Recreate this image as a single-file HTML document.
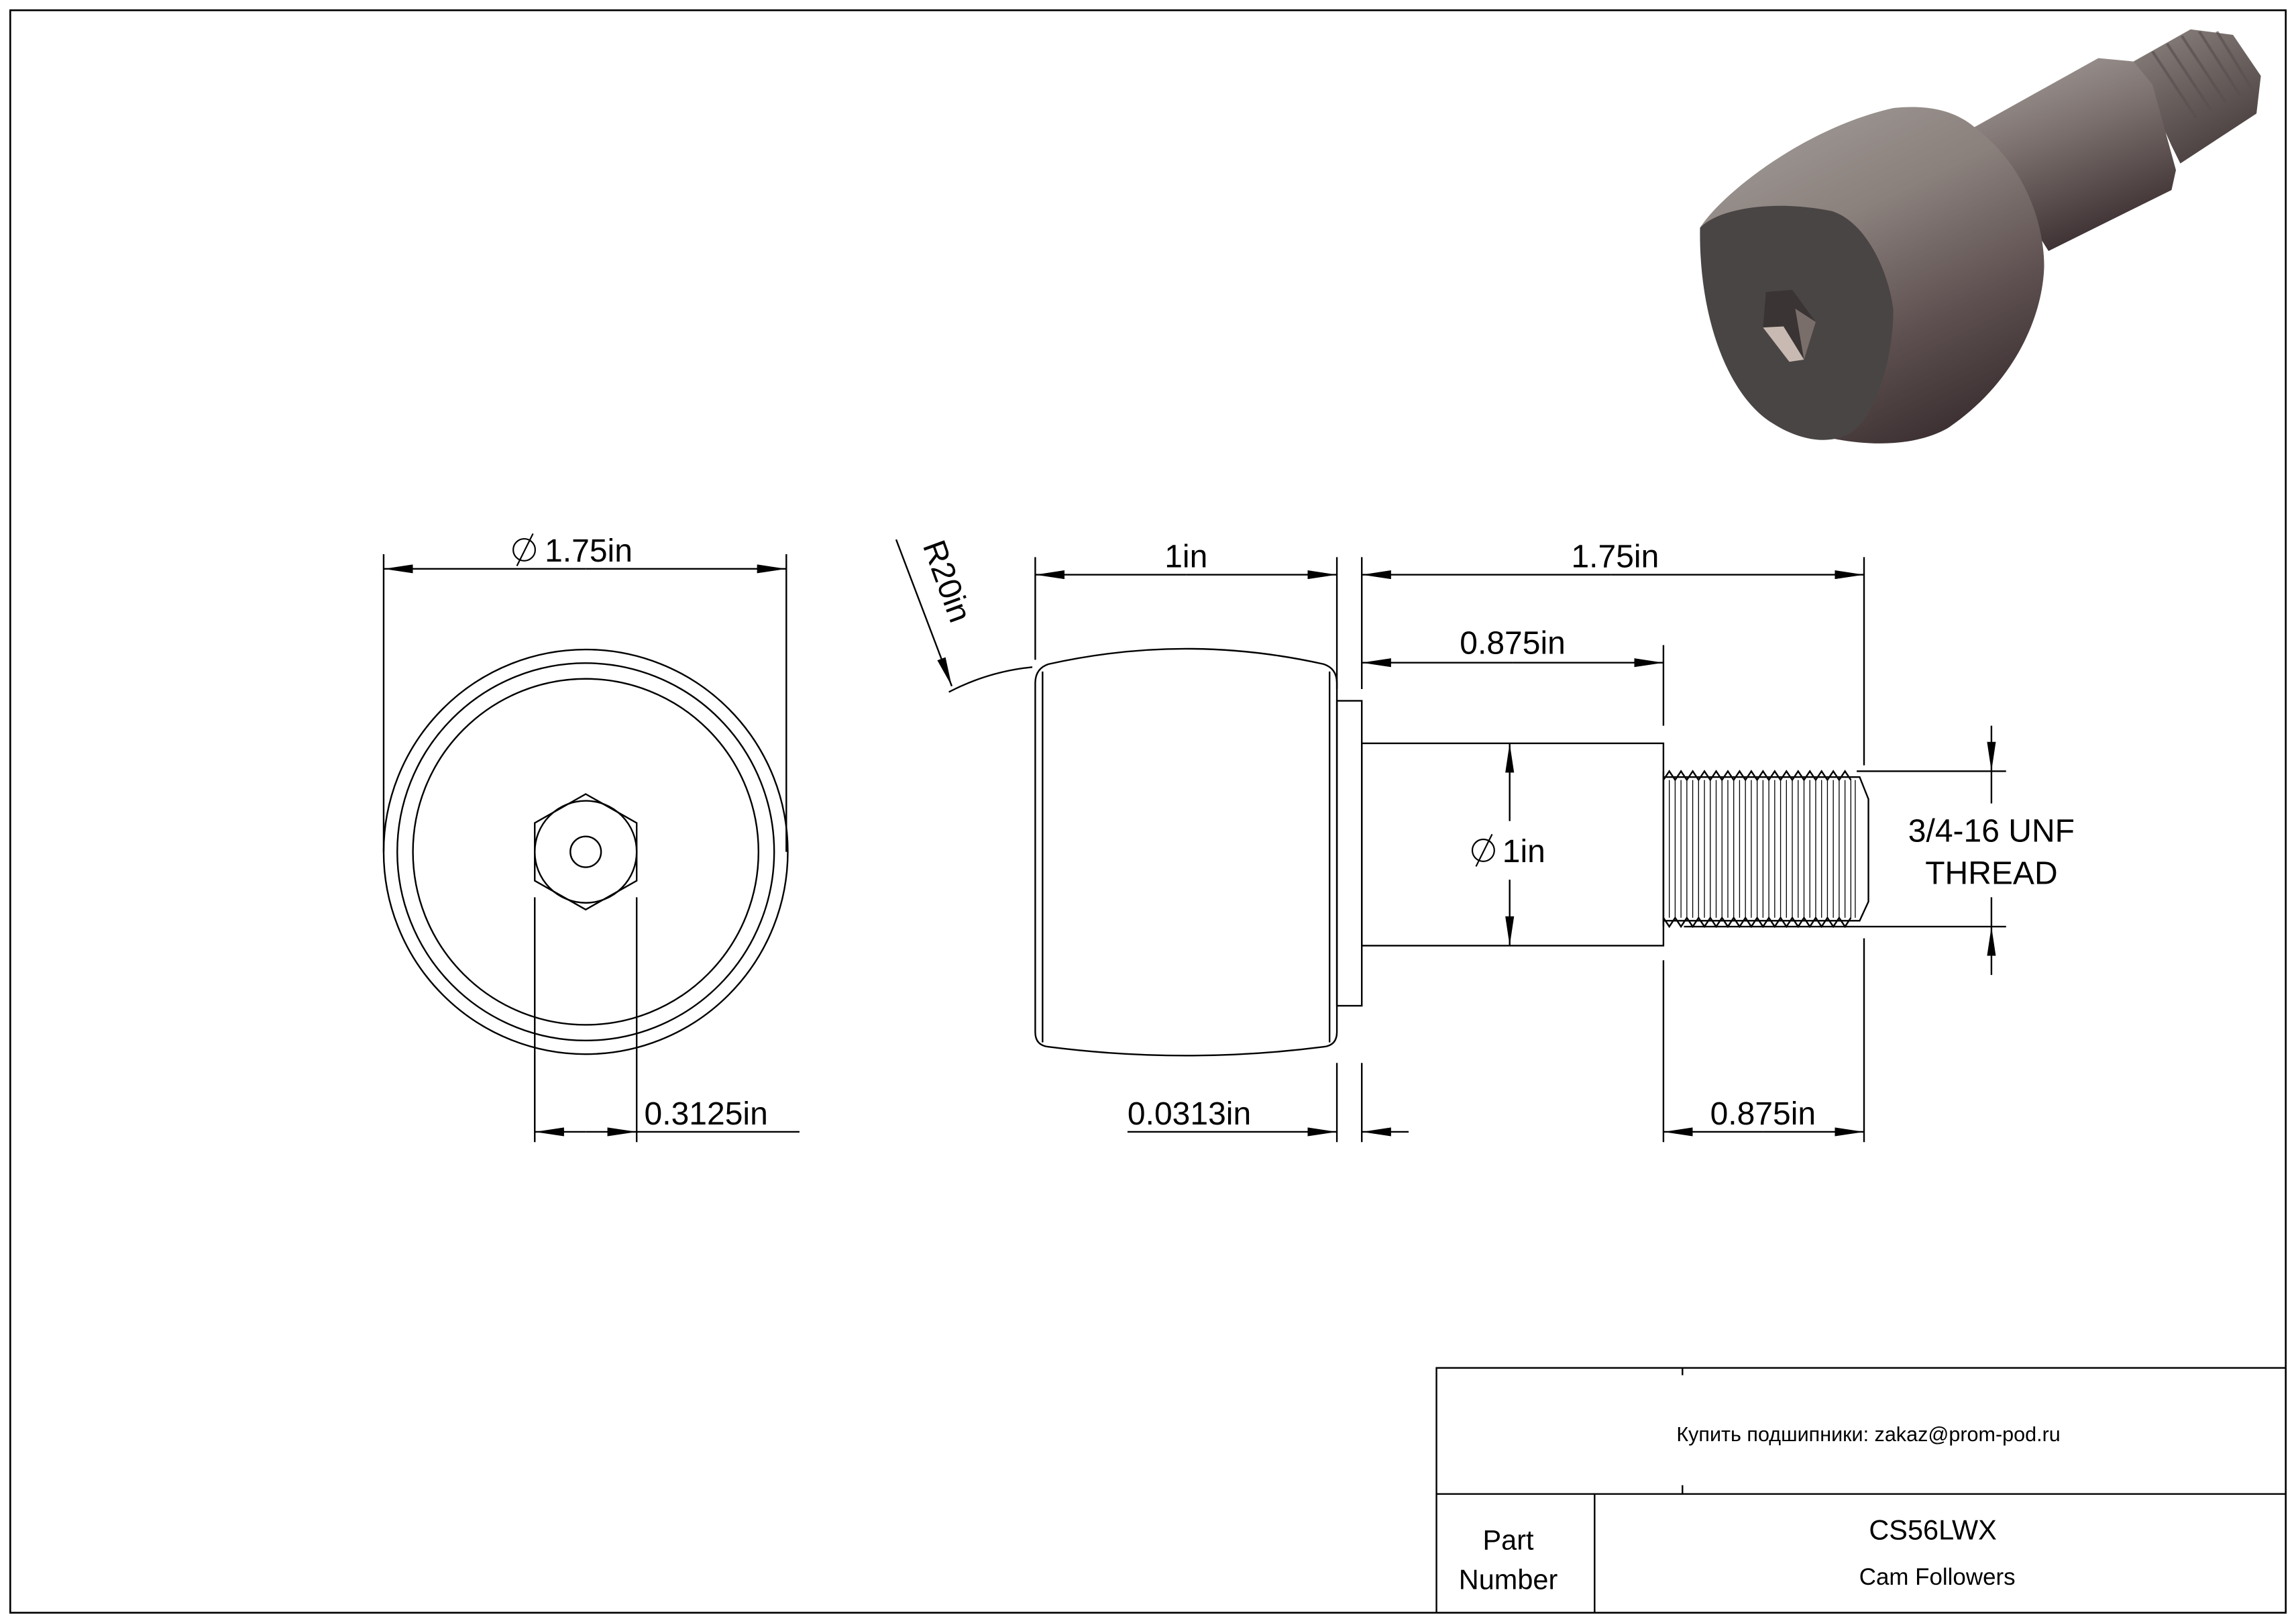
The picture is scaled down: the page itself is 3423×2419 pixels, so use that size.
<!DOCTYPE html>
<html><head><meta charset="utf-8"><style>
html,body{margin:0;padding:0;background:#fff}
svg{display:block}
text{font-family:"Liberation Sans",Arial,sans-serif;fill:#000}
</style></head><body>
<svg width="3423" height="2419" viewBox="0 0 1568 1107" preserveAspectRatio="none" xmlns="http://www.w3.org/2000/svg">
<defs>
<linearGradient id="gb" x1="0.2" y1="0" x2="0.7" y2="1">
<stop offset="0" stop-color="#a09a96"/><stop offset="0.35" stop-color="#8a807c"/><stop offset="0.7" stop-color="#5e5050"/><stop offset="1" stop-color="#3a2e30"/></linearGradient>
<linearGradient id="gs" x1="0" y1="0" x2="0.4" y2="1">
<stop offset="0" stop-color="#a8a29e"/><stop offset="0.5" stop-color="#7a6e6c"/><stop offset="1" stop-color="#3e3234"/></linearGradient>
<linearGradient id="gt" x1="0" y1="0" x2="0.5" y2="1">
<stop offset="0" stop-color="#8c8480"/><stop offset="1" stop-color="#4a4040"/></linearGradient>
<marker id="a" viewBox="0 0 20 6" refX="20" refY="3" markerWidth="20" markerHeight="6" markerUnits="userSpaceOnUse" orient="auto"><path d="M0,0L20,3L0,6z" fill="#000"/></marker>
</defs>
<rect x="7" y="7" width="1554" height="1093" fill="none" stroke="#000" stroke-width="1.2"/>
<g fill="none" stroke="#000" stroke-width="1.1">
<circle cx="400" cy="581" r="138"/>
<circle cx="400" cy="581" r="128.7"/>
<circle cx="400" cy="581" r="118"/>
<polygon points="400,541.6 434.8,561.3 434.8,600.7 400,620.4 365.2,600.7 365.2,561.3"/>
<circle cx="400" cy="581" r="34.8"/>
<circle cx="400" cy="581" r="10.5"/>
<line x1="262" y1="378" x2="262" y2="581"/>
<line x1="537" y1="378" x2="537" y2="581"/>
<line x1="400" y1="388" x2="537" y2="388" marker-end="url(#a)"/>
<line x1="400" y1="388" x2="262" y2="388" marker-end="url(#a)"/>
<line x1="365.2" y1="612" x2="365.2" y2="779"/>
<line x1="434.8" y1="612" x2="434.8" y2="779"/>
<line x1="400" y1="772" x2="365.2" y2="772" marker-end="url(#a)"/>
<line x1="400" y1="772" x2="434.8" y2="772" marker-end="url(#a)"/>
<line x1="434.8" y1="772" x2="546" y2="772"/>
<path d="M707,466 Q707,456 716,453 Q810,432 904,453 Q913,456 913,466 V704 Q913,713 904,714 Q810,726 716,714 Q707,713 707,704 Z"/>
<line x1="712" y1="458" x2="712" y2="711"/>
<line x1="908" y1="458" x2="908" y2="711"/>
<rect x="913" y="478" width="17" height="208"/>
<rect x="930" y="507" width="206" height="138"/>
<path d="M1136,526 L1136,632 M1136,530 L1270,530 L1276,545 L1276,615 L1270,628 L1136,628"/>
<path d="M1136,532 L1140,526 L1144,532 L1148,526 L1152,532 L1156,526 L1160,532 L1164,526 L1168,532 L1172,526 L1176,532 L1180,526 L1184,532 L1188,526 L1192,532 L1196,526 L1200,532 L1204,526 L1208,532 L1212,526 L1216,532 L1220,526 L1224,532 L1228,526 L1232,532 L1236,526 L1240,532 L1244,526 L1248,532 L1252,526 L1256,532 L1260,526 L1264,532"/>
<path d="M1136,626 L1140,632 L1144,626 L1148,632 L1152,626 L1156,632 L1160,626 L1164,632 L1168,626 L1172,632 L1176,626 L1180,632 L1184,626 L1188,632 L1192,626 L1196,632 L1200,626 L1204,632 L1208,626 L1212,632 L1216,626 L1220,632 L1224,626 L1228,632 L1232,626 L1236,632 L1240,626 L1244,632 L1248,626 L1252,632 L1256,626 L1260,632 L1264,626"/>
<g stroke-width="0.6">
<path d="M1140,532V626M1148,532V626M1156,532V626M1164,532V626M1172,532V626M1180,532V626M1188,532V626M1196,532V626M1204,532V626M1212,532V626M1220,532V626M1228,532V626M1236,532V626M1244,532V626M1252,532V626M1260,532V626M1267,532V626"/>
<path d="M1144,532V626M1152,532V626M1160,532V626M1168,532V626M1176,532V626M1184,532V626M1192,532V626M1200,532V626M1208,532V626M1216,532V626M1224,532V626M1232,532V626M1240,532V626M1248,532V626M1256,532V626M1264,532V626"/>
</g>
<line x1="707" y1="380" x2="707" y2="450"/>
<line x1="913" y1="380" x2="913" y2="470"/>
<line x1="930" y1="380" x2="930" y2="470"/>
<line x1="1273" y1="380" x2="1273" y2="522"/>
<line x1="1136" y1="440" x2="1136" y2="495"/>
<line x1="810" y1="392" x2="707" y2="392" marker-end="url(#a)"/>
<line x1="810" y1="392" x2="913" y2="392" marker-end="url(#a)"/>
<line x1="1100" y1="392" x2="930" y2="392" marker-end="url(#a)"/>
<line x1="1100" y1="392" x2="1273" y2="392" marker-end="url(#a)"/>
<line x1="1033" y1="452" x2="930" y2="452" marker-end="url(#a)"/>
<line x1="1033" y1="452" x2="1136" y2="452" marker-end="url(#a)"/>
<line x1="1031" y1="560" x2="1031" y2="507" marker-end="url(#a)"/>
<line x1="1031" y1="600" x2="1031" y2="645" marker-end="url(#a)"/>
<line x1="1268" y1="526" x2="1370" y2="526"/>
<line x1="1150" y1="632" x2="1370" y2="632"/>
<line x1="1360" y1="495" x2="1360" y2="526" marker-end="url(#a)"/>
<line x1="1360" y1="526" x2="1360" y2="548"/>
<line x1="1360" y1="665" x2="1360" y2="632" marker-end="url(#a)"/>
<line x1="1360" y1="632" x2="1360" y2="612"/>
<line x1="913" y1="725" x2="913" y2="779"/>
<line x1="930" y1="725" x2="930" y2="779"/>
<line x1="770" y1="772" x2="913" y2="772" marker-end="url(#a)"/>
<line x1="962" y1="772" x2="930" y2="772" marker-end="url(#a)"/>
<line x1="1136" y1="655" x2="1136" y2="779"/>
<line x1="1273" y1="640" x2="1273" y2="779"/>
<line x1="1204" y1="772" x2="1136" y2="772" marker-end="url(#a)"/>
<line x1="1204" y1="772" x2="1273" y2="772" marker-end="url(#a)"/>
<line x1="612" y1="368" x2="650" y2="468" marker-end="url(#a)"/>
<path d="M648,472 Q675,458 705,455"/>
<rect x="981" y="933" width="580" height="167"/>
<line x1="981" y1="1019" x2="1561" y2="1019"/>
<line x1="1089" y1="1019" x2="1089" y2="1100"/>
<line x1="1149" y1="933" x2="1149" y2="938"/>
<line x1="1149" y1="1013" x2="1149" y2="1019"/>
</g>
<g fill="none" stroke="#000" stroke-width="1">
<circle cx="358" cy="375" r="7.5"/><line x1="353" y1="386" x2="364" y2="364"/>
<circle cx="1013" cy="580" r="7.5"/><line x1="1008" y1="591" x2="1019" y2="569"/>
</g>
<g font-size="22">
<text x="372" y="383">1.75in</text>
<text x="440" y="767">0.3125in</text>
<text x="810" y="387" text-anchor="middle">1in</text>
<text x="1103" y="387" text-anchor="middle">1.75in</text>
<text x="1033" y="446" text-anchor="middle">0.875in</text>
<text x="1026" y="588">1in</text>
<text x="1360" y="574" text-anchor="middle">3/4-16 UNF</text>
<text x="1360" y="603" text-anchor="middle">THREAD</text>
<text x="770" y="767">0.0313in</text>
<text x="1204" y="767" text-anchor="middle">0.875in</text>
<text transform="translate(630,372) rotate(70)">R20in</text>
</g>
<text x="1276" y="983" font-size="14" text-anchor="middle">Купить подшипники: zakaz@prom-pod.ru</text>
<text x="1030" y="1057" font-size="19" text-anchor="middle">Part</text>
<text x="1030" y="1084" font-size="19" text-anchor="middle">Number</text>
<text x="1320" y="1050" font-size="19" text-anchor="middle">CS56LWX</text>
<text x="1323" y="1081" font-size="16" text-anchor="middle">Cam Followers</text>
<g transform="translate(0,20) scale(1,0.756) translate(0,-20)">
<path d="M1457,49 L1496,20 L1525,25 L1544,62 L1541,96 L1489,141 L1483,125 Z" fill="url(#gt)"/>
<g stroke="#5a5050" stroke-width="2" fill="none" opacity="0.7">
<path d="M1470,40 L1500,100 M1480,33 L1510,93 M1490,26 L1520,86 M1502,22 L1530,80 M1514,22 L1538,74"/>
</g>
<path d="M1346,110 L1433,46 L1457,49 L1470,70 L1486,147 L1483,165 L1399,220 Z" fill="url(#gs)"/>
<path d="M1161,199 C1175,170 1230,110 1293,91 C1315,88 1335,92 1350,110 C1380,140 1396,190 1396,234 C1395,280 1375,340 1330,380 C1310,395 1280,397 1251,389 C1210,375 1170,330 1161,199 Z" fill="url(#gb)"/>
<path d="M1161,199 C1175,180 1215,174 1251,184 C1275,194 1290,240 1293,273 C1293,320 1280,370 1264,384 C1250,395 1230,392 1210,375 C1180,350 1160,280 1161,199 Z" fill="#4a4545"/>
<polygon points="1206,257 1224,255 1240,284 1232,318 1222,320 1204,289" fill="#3a3434"/>
<polygon points="1204,289 1222,320 1232,318 1218,288" fill="#c8bab2"/>
<polygon points="1226,272 1240,284 1232,318" fill="#7a6e6a"/>
</g>
</svg>
</body></html>
